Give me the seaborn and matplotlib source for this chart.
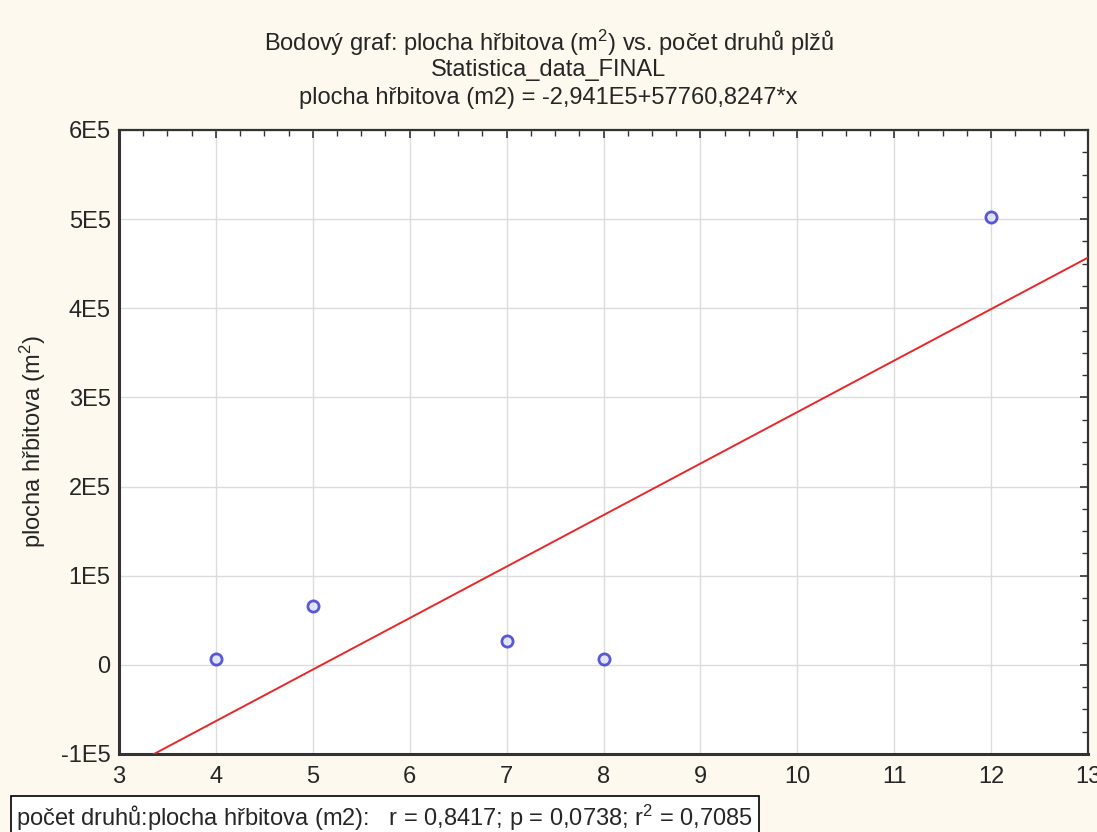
import seaborn as sns
import matplotlib.pyplot as plt
import matplotlib.ticker as mticker
import pandas as pd
import numpy as np

# Data
pocet_druhu = [4, 5, 7, 8, 12]
plocha = [7000, 66000, 27000, 7000, 501860]

title_lines = [
    "Bodový graf: plocha hřbitova (m$^2$) vs. počet druhů plžů",
    "Statistica_data_FINAL",
    "plocha hřbitova (m2) = -2,941E5+57760,8247*x",
]
stats_text = "počet druhů:plocha hřbitova (m2):   r = 0,8417; p = 0,0738; r$^2$ = 0,7085"
y_ticks = [-1e5, 0, 1e5, 2e5, 3e5, 4e5, 5e5, 6e5]
y_labels = ["-1E5", "0", "1E5", "2E5", "3E5", "4E5", "5E5", "6E5"]

df = pd.DataFrame({"pocet": pocet_druhu, "plocha": plocha})

sns.set_style("white")
plt.rcParams["font.family"] = ["Liberation Sans", "DejaVu Sans"]
plt.rcParams["mathtext.fontset"] = "custom"
plt.rcParams["mathtext.rm"] = "Liberation Sans"
plt.rcParams["mathtext.it"] = "Liberation Sans"

bg = "#fdf9ee"
fs = 17
fig = plt.figure(figsize=(10.97, 8.32), dpi=100, facecolor=bg)
ax = fig.add_axes([0.1085, 0.0938, 0.8833, 0.75])
ax.set_facecolor("white")

ax.set_xlim(3, 13)
ax.set_ylim(-1e5, 6e5)

sns.regplot(
    data=df, x="pocet", y="plocha", ax=ax, ci=None, truncate=False,
    scatter_kws=dict(s=65, facecolor="#dde0ff", edgecolor="#3333cc", linewidths=2, zorder=4),
    line_kws=dict(color="#e8272a", lw=1.4, zorder=3),
)

ax.set_xlim(3, 13)
ax.set_ylim(-1e5, 6e5)
ax.set_xticks(range(3, 14))
ax.set_yticks(y_ticks)
ax.set_yticklabels(y_labels)
ax.xaxis.set_minor_locator(mticker.AutoMinorLocator(4))
ax.yaxis.set_minor_locator(mticker.AutoMinorLocator(4))
ax.tick_params(which="both", direction="in", top=True, right=True, color="#333333")
ax.tick_params(which="major", length=6, width=1.2, labelsize=fs)
ax.tick_params(axis="x", which="major", pad=9)
ax.tick_params(axis="y", which="major", pad=6)
ax.tick_params(which="minor", length=4, width=1)
ax.grid(True, which="major", color="#dcdcdc", lw=1)
ax.set_axisbelow(True)
for s in ax.spines.values():
    s.set_color("#333333")
    s.set_linewidth(1.6)
ax.spines["left"].set_linewidth(2.2)
ax.spines["bottom"].set_linewidth(2.2)

ax.set_xlabel("")
ax.set_ylabel("plocha hřbitova (m$^2$)", fontsize=fs, labelpad=9)

for i, line in enumerate(title_lines):
    fig.text(0.5, 0.949 - i * 0.0335, line, ha="center", va="center", fontsize=fs)

fig.text(0.015, 0.0175, stats_text, ha="left", va="center", fontsize=fs,
         bbox=dict(boxstyle="square,pad=0.25", facecolor="white", edgecolor="black", lw=1.2))

plt.savefig("out.png", dpi=100, facecolor=bg)
plt.close()
